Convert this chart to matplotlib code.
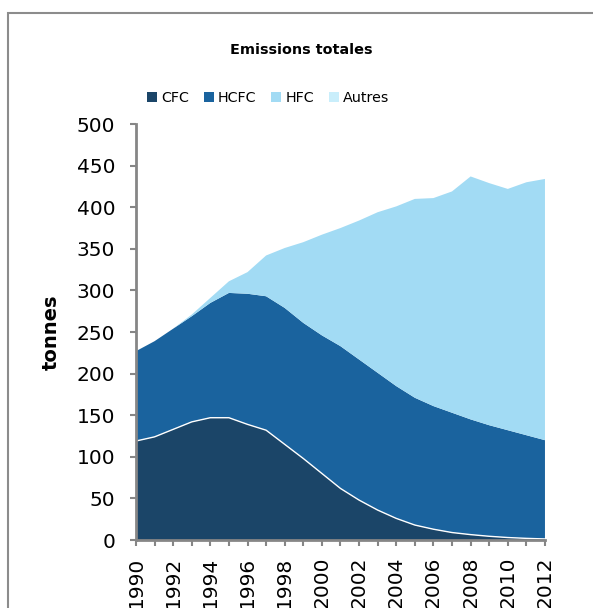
import numpy as np
import matplotlib.pyplot as plt
from matplotlib.patches import Rectangle

years = np.arange(1990, 2013)
cfc = [119, 124, 133, 142, 147, 147, 139, 132, 115, 98, 80, 62,
       48, 36, 26, 18, 13, 9, 6.5, 4.5, 3, 2, 1.3]
hcfc = [108, 115, 121, 127, 138, 150, 157, 161, 164, 163, 166, 171,
        169, 165, 159, 153, 148, 144, 138.5, 133.5, 129, 124, 118.7]
hfc = [0, 0, 0, 2, 6, 14, 26, 49, 72, 97, 121, 142,
       167, 193, 216, 239, 250, 266, 292, 291, 290, 304, 314]
autres = [0] * 23
names = ["CFC", "HCFC", "HFC", "Autres"]
colors = ["#1b4568", "#1a639e", "#a2dbf4", "#c9eefb"]

fig = plt.figure(figsize=(5.93, 6.08), dpi=100)
ax = fig.add_axes([0.2293, 0.1118, 0.6897, 0.6842])

ax.stackplot(years, cfc, hcfc, hfc, autres, colors=colors, labels=names,
             linewidth=0)
ax.plot(years, cfc, color="white", linewidth=1)

ax.set_xlim(1990, 2012)
ax.set_ylim(0, 500)
ax.set_yticks(np.arange(0, 501, 50))
ax.set_xticks(years)
ax.set_xticklabels([str(y) if y % 2 == 0 else "" for y in years], rotation=90)

for s in ["top", "right"]:
    ax.spines[s].set_visible(False)
for s in ["left", "bottom"]:
    ax.spines[s].set_color("#868686")
    ax.spines[s].set_linewidth(2)
ax.tick_params(axis="both", colors="#868686", width=1.5, length=4,
               labelcolor="black", labelsize=14.5)
ax.tick_params(axis="y", pad=11)
ax.tick_params(axis="x", pad=8)

ax.set_ylabel("tonnes", fontsize=14, fontweight="bold", labelpad=11)

fig.text(301 / 593, 1 - 50 / 608, "Emissions totales", ha="center",
         va="center", fontsize=10.4, fontweight="bold")
fig.legend(loc="center", bbox_to_anchor=(268 / 593, 1 - 98 / 608), ncol=4,
           frameon=False, fontsize=10.3, handlelength=0.7, handleheight=0.7,
           handletextpad=0.28, columnspacing=1.05)

fig.patches.append(Rectangle((8 / 593, -0.1), 1.1, 0.1 + 1 - 13 / 608,
                             transform=fig.transFigure, fill=False,
                             edgecolor="#8c8c8c", linewidth=1.5))

fig.savefig("out.png", dpi=100)
